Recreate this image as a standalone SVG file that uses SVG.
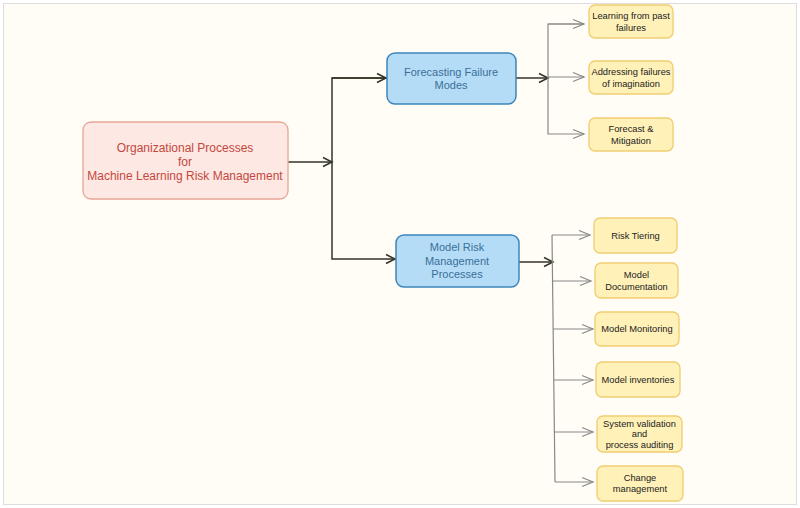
<svg xmlns="http://www.w3.org/2000/svg" width="800" height="508" viewBox="0 0 800 508">
<defs>
<marker id="ad" markerWidth="12" markerHeight="12" refX="10" refY="6" orient="auto" markerUnits="userSpaceOnUse"><path d="M1,1.5 L10,6 L1,10.5" fill="none" stroke="#333326" stroke-width="1.5"/></marker>
<marker id="ag" markerWidth="14" markerHeight="12" refX="12" refY="6" orient="auto" markerUnits="userSpaceOnUse"><path d="M1,1.5 L12,6 L1,10.5" fill="none" stroke="#888888" stroke-width="1.2"/></marker>
<style>
.bg{fill:#fffdf6;stroke:#dddddd;stroke-width:1}
.main rect{fill:#fde8e3;stroke:#e9a598;stroke-width:1.3}
.main text{fill:#c4473f;font-family:"Liberation Sans",Arial,sans-serif;font-size:12px;text-anchor:middle}
.mid rect{fill:#b5dcf6;stroke:#3d85bb;stroke-width:1.5}
.mid text{fill:#3a6f99;font-family:"Liberation Sans",Arial,sans-serif;font-size:11px;text-anchor:middle}
.leaf rect{fill:#fff1b8;stroke:#efcd70;stroke-width:1.3}
.leaf text{fill:#222222;font-family:"Liberation Sans",Arial,sans-serif;font-size:9.3px;text-anchor:middle}
.cd{fill:none;stroke:#333326;stroke-width:1.5}
.cg{fill:none;stroke:#888888;stroke-width:1.2}
</style>
</defs>
<rect class="bg" x="3.5" y="3.5" width="793" height="501"/>
<g id="connectors">
<path class="cd" d="M288,162 H332" marker-end="url(#ad)"/>
<path class="cd" d="M387,78 H332 V259 H395" marker-end="url(#ad)"/>
<path class="cd" d="M332,78 H386" marker-end="url(#ad)"/>
<path class="cd" d="M516,78 H548" marker-end="url(#ad)"/>
<path class="cd" d="M519,262 H553" marker-end="url(#ad)"/>
<path class="cg" d="M584,24 H548 V134 H584" marker-end="url(#ag)"/>
<path class="cg" d="M548,24 H584" marker-end="url(#ag)"/>
<path class="cg" d="M548,77 H584" marker-end="url(#ag)"/>
<path class="cg" d="M552,235 L555,482"/>
<path class="cg" d="M552,235 H590" marker-end="url(#ag)"/>
<path class="cg" d="M552.6,281 H591" marker-end="url(#ag)"/>
<path class="cg" d="M553.2,329 H593" marker-end="url(#ag)"/>
<path class="cg" d="M553.8,380 H593" marker-end="url(#ag)"/>
<path class="cg" d="M554.4,432 H593" marker-end="url(#ag)"/>
<path class="cg" d="M555,482 H593" marker-end="url(#ag)"/>
</g>
<g id="n-main" class="main"><rect x="83" y="122" width="205" height="77" rx="8"/><text x="185" y="152">Organizational Processes</text><text x="185" y="166">for</text><text x="185" y="180">Machine Learning Risk Management</text></g>
<g id="n-forecast" class="mid"><rect x="387" y="53" width="129" height="51" rx="8"/><text x="451" y="76">Forecasting Failure</text><text x="451" y="89">Modes</text></g>
<g id="n-mrm" class="mid"><rect x="396" y="235" width="123" height="52" rx="8"/><text x="457" y="251">Model Risk</text><text x="457" y="265">Management</text><text x="457" y="278">Processes</text></g>
<g id="n-learn" class="leaf"><rect x="589" y="5" width="84" height="33" rx="6"/><text x="631" y="19">Learning from past</text><text x="631" y="31">failures</text></g>
<g id="n-address" class="leaf"><rect x="589" y="61" width="84" height="33" rx="6"/><text x="631" y="75">Addressing failures</text><text x="631" y="87">of imagination</text></g>
<g id="n-fm" class="leaf"><rect x="589" y="118" width="84" height="33" rx="6"/><text x="631" y="132">Forecast &amp;</text><text x="631" y="144">Mitigation</text></g>
<g id="n-tier" class="leaf"><rect x="594" y="218" width="83" height="35" rx="6"/><text x="635.5" y="239">Risk Tiering</text></g>
<g id="n-doc" class="leaf"><rect x="595" y="263" width="83" height="35" rx="6"/><text x="636.5" y="278">Model</text><text x="636.5" y="290">Documentation</text></g>
<g id="n-mon" class="leaf"><rect x="595" y="312" width="84" height="34" rx="6"/><text x="637" y="332">Model Monitoring</text></g>
<g id="n-inv" class="leaf"><rect x="596" y="362" width="84" height="35" rx="6"/><text x="638" y="383">Model inventories</text></g>
<g id="n-sys" class="leaf"><rect x="597" y="416" width="85" height="36" rx="6"/><text x="639.5" y="427">System validation</text><text x="639.5" y="437">and</text><text x="639.5" y="448">process auditing</text></g>
<g id="n-chg" class="leaf"><rect x="597" y="466" width="86" height="35" rx="6"/><text x="640" y="481">Change</text><text x="640" y="492">management</text></g>
</svg>
